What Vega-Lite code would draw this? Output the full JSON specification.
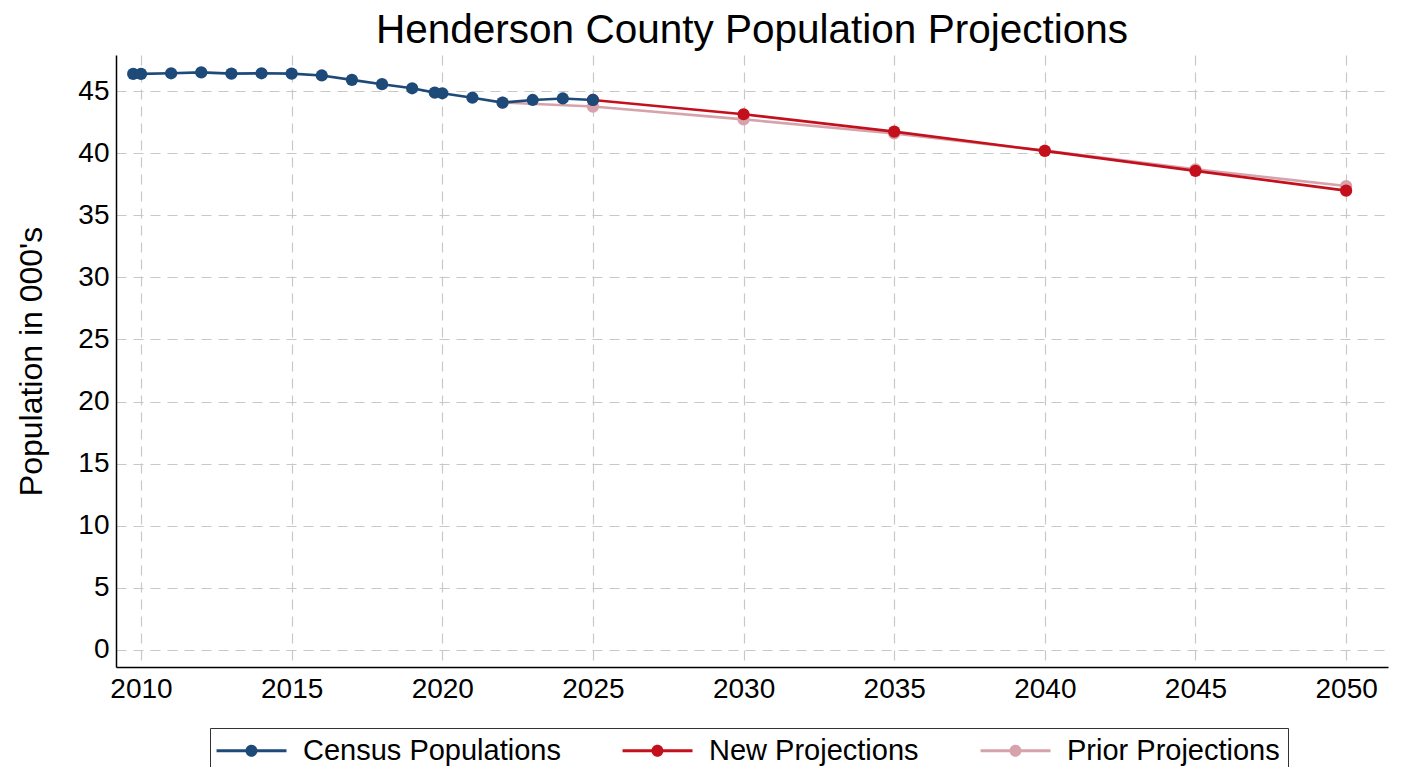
{
  "$schema": "https://vega.github.io/schema/vega-lite/v6.json",
  "width": 1272,
  "height": 612,
  "autosize": {"type": "none"},
  "padding": {"left": 116, "top": 55, "right": 13, "bottom": 100},
  "background": "white",
  "title": {
    "text": "Henderson County Population Projections",
    "font": "Liberation Sans",
    "fontSize": 40.5,
    "fontWeight": "normal",
    "color": "black",
    "anchor": "middle",
    "offset": 4
  },
  "config": {
    "view": {"stroke": null},
    "font": "Liberation Sans"
  },
  "data": {
    "values": [
      {"year": 2022, "pop": 44.07, "series": "Prior Projections"},
      {"year": 2025, "pop": 43.75, "series": "Prior Projections"},
      {"year": 2030, "pop": 42.72, "series": "Prior Projections"},
      {"year": 2035, "pop": 41.58, "series": "Prior Projections"},
      {"year": 2040, "pop": 40.2, "series": "Prior Projections"},
      {"year": 2045, "pop": 38.7, "series": "Prior Projections"},
      {"year": 2050, "pop": 37.35, "series": "Prior Projections"},
      {"year": 2025, "pop": 44.28, "series": "New Projections"},
      {"year": 2030, "pop": 43.13, "series": "New Projections"},
      {"year": 2035, "pop": 41.73, "series": "New Projections"},
      {"year": 2040, "pop": 40.18, "series": "New Projections"},
      {"year": 2045, "pop": 38.57, "series": "New Projections"},
      {"year": 2050, "pop": 36.98, "series": "New Projections"},
      {"year": 2009.74, "pop": 46.38, "series": "Census Populations"},
      {"year": 2010, "pop": 46.38, "series": "Census Populations"},
      {"year": 2011, "pop": 46.43, "series": "Census Populations"},
      {"year": 2012, "pop": 46.5, "series": "Census Populations"},
      {"year": 2013, "pop": 46.4, "series": "Census Populations"},
      {"year": 2014, "pop": 46.43, "series": "Census Populations"},
      {"year": 2015, "pop": 46.4, "series": "Census Populations"},
      {"year": 2016, "pop": 46.25, "series": "Census Populations"},
      {"year": 2017, "pop": 45.9, "series": "Census Populations"},
      {"year": 2018, "pop": 45.55, "series": "Census Populations"},
      {"year": 2019, "pop": 45.22, "series": "Census Populations"},
      {"year": 2019.75, "pop": 44.87, "series": "Census Populations"},
      {"year": 2020, "pop": 44.82, "series": "Census Populations"},
      {"year": 2021, "pop": 44.46, "series": "Census Populations"},
      {"year": 2022, "pop": 44.07, "series": "Census Populations"},
      {"year": 2023, "pop": 44.28, "series": "Census Populations"},
      {"year": 2024, "pop": 44.4, "series": "Census Populations"},
      {"year": 2025, "pop": 44.28, "series": "Census Populations"}
    ]
  },
  "encoding": {
    "x": {
      "field": "year",
      "type": "quantitative",
      "scale": {"domain": [2009.17, 2051.39], "nice": false, "zero": false},
      "axis": {
        "title": null,
        "values": [2010, 2015, 2020, 2025, 2030, 2035, 2040, 2045, 2050],
        "format": "d",
        "labelFontSize": 28,
        "labelColor": "black",
        "labelPadding": 8,
        "labelFlush": false,
        "ticks": false,
        "domainColor": "black",
        "domainWidth": 1.5,
        "grid": true,
        "gridColor": "#c8c8c8",
        "gridDash": [10, 7],
        "gridWidth": 1.2
      }
    },
    "y": {
      "field": "pop",
      "type": "quantitative",
      "scale": {"domain": [-1.37, 47.9], "nice": false, "zero": false},
      "axis": {
        "title": "Population in 000's",
        "titleFontSize": 32,
        "titleFontWeight": "normal",
        "titleColor": "black",
        "titlePadding": 29,
        "values": [0, 5, 10, 15, 20, 25, 30, 35, 40, 45],
        "labelFontSize": 28,
        "labelColor": "black",
        "labelPadding": 7,
        "labelFlush": false,
        "ticks": false,
        "domainColor": "black",
        "domainWidth": 1.5,
        "grid": true,
        "gridColor": "#c8c8c8",
        "gridDash": [10, 7],
        "gridWidth": 1.2
      }
    },
    "color": {
      "field": "series",
      "type": "nominal",
      "scale": {
        "domain": ["Census Populations", "New Projections", "Prior Projections"],
        "range": ["#1d4a78", "#c4101c", "#d6a3ad"]
      },
      "legend": {
        "title": null,
        "orient": "none",
        "legendX": 94,
        "legendY": 673,
        "direction": "horizontal",
        "labelFontSize": 29,
        "labelColor": "black",
        "labelOffset": 56,
        "labelLimit": 400,
        "columnPadding": 61,
        "padding": 8,
        "strokeColor": "#333333",
        "symbolSize": 576,
        "symbolStrokeWidth": 0,
        "symbolType": "M-1.33,-0.12H4.5V0.12H-1.33Z M2.08,0A0.5,0.5 0 1 1 1.08,0A0.5,0.5 0 1 1 2.08,0Z",
        "encode": {
          "symbols": {
            "update": {
              "fill": {"scale": "color", "field": "value"},
              "opacity": {"value": 1},
              "strokeWidth": {"value": 0}
            }
          }
        }
      }
    }
  },
  "layer": [
    {
      "transform": [{"filter": "datum.series == 'Prior Projections'"}],
      "layer": [
        {"mark": {"type": "line", "strokeWidth": 2.6}},
        {"mark": {"type": "point", "filled": true, "size": 150, "opacity": 1}}
      ]
    },
    {
      "transform": [{"filter": "datum.series == 'New Projections'"}],
      "layer": [
        {"mark": {"type": "line", "strokeWidth": 2.6}},
        {"mark": {"type": "point", "filled": true, "size": 150, "opacity": 1}}
      ]
    },
    {
      "transform": [{"filter": "datum.series == 'Census Populations'"}],
      "layer": [
        {"mark": {"type": "line", "strokeWidth": 2.6}},
        {"mark": {"type": "point", "filled": true, "size": 150, "opacity": 1}}
      ]
    }
  ]
}
